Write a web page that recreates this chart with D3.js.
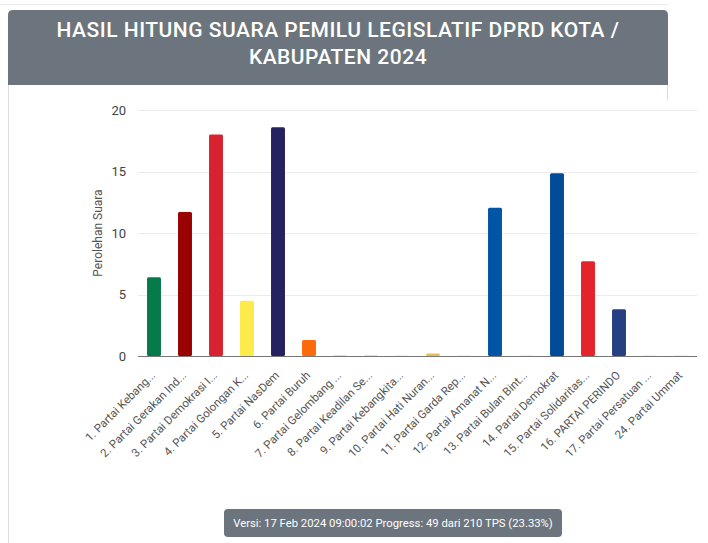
<!DOCTYPE html>
<html><head><meta charset="utf-8">
<script src="https://cdn.jsdelivr.net/npm/d3@7"></script>
<style>
html,body{margin:0;padding:0;background:#fff;}
svg{display:block;font-family:Roboto,"Noto Sans",sans-serif;}
</style></head>
<body>
<svg id="c" width="708" height="543"></svg>
<script>
const titleLines = ["HASIL HITUNG SUARA PEMILU LEGISLATIF DPRD KOTA /", "KABUPATEN 2024"];
const categories = ["1. Partai Kebang...", "2. Partai Gerakan Ind...", "3. Partai Demokrasi I...", "4. Partai Golongan K...", "5. Partai NasDem", "6. Partai Buruh", "7. Partai Gelombang ...", "8. Partai Keadilan Se...", "9. Partai Kebangkita...", "10. Partai Hati Nuran...", "11. Partai Garda Rep...", "12. Partai Amanat N...", "13. Partai Bulan Bint...", "14. Partai Demokrat", "15. Partai Solidaritas...", "16. PARTAI PERINDO", "17. Partai Persatuan ...", "24. Partai Ummat"];
const values = [6.4, 11.7, 18.0, 4.5, 18.6, 1.3, 0.05, 0.05, 0.03, 0.2, 0.03, 12.05, 0.03, 14.85, 7.7, 3.8, 0.03, 0.03];
const colors = ["#077a4c", "#9a0202", "#d8222f", "#fdea4b", "#25225f", "#fd6a0b", "#9cc8e6", "#e0b98a", "#c8c8c8", "#e6bf55", "#c8c8c8", "#0055a5", "#c8c8c8", "#004c98", "#e4232b", "#263f80", "#c8c8c8", "#c8c8c8"];
const yTicks = [0, 5, 10, 15, 20];
const yTitle = "Perolehan Suara";
const footer = "Versi: 17 Feb 2024 09:00:02 Progress: 49 dari 210 TPS (23.33%)";

const svg = d3.select("#c");

// card body border
svg.append("path").attr("d","M8.5,85 V543 M667.5,85 V100").attr("stroke","#dcdcdc").attr("fill","none");
svg.append("line").attr("x1",0).attr("x2",668).attr("y1",4.5).attr("y2",4.5).attr("stroke","#e8eaee");

// header
const hx=8, hy=10, hw=660, hh=75, r=5;
svg.append("path")
  .attr("d",`M${hx},${hy+hh} V${hy+r} Q${hx},${hy} ${hx+r},${hy} H${hx+hw-r} Q${hx+hw},${hy} ${hx+hw},${hy+r} V${hy+hh} Z`)
  .attr("fill","#6c757d");
svg.append("g").selectAll("text").data(titleLines).join("text")
  .attr("x", 338).attr("y",(d,i)=>37+i*26.5)
  .attr("text-anchor","middle").attr("fill","#fff")
  .attr("font-size",21).attr("font-weight",500).attr("letter-spacing",0.5)
  .text(d=>d);

// scales
const x = d3.scaleBand().domain(categories).range([138.5, 696.5]).paddingInner(0.55).paddingOuter(0.275);
const y = d3.scaleLinear().domain([0,20]).range([356,110]);

// gridlines
svg.append("g").selectAll("line").data(yTicks.filter(t=>t>0)).join("line")
  .attr("x1",138).attr("x2",697).attr("y1",d=>Math.round(y(d))+0.5).attr("y2",d=>Math.round(y(d))+0.5)
  .attr("stroke","#ececec");

// y axis labels
const ya = svg.append("g").attr("transform","translate(126,0)")
  .call(d3.axisLeft(y).tickValues(yTicks).tickSize(0).tickPadding(0));
ya.select(".domain").remove();
ya.selectAll("text").attr("font-family","Roboto,sans-serif").attr("font-size",13).attr("fill","#444");

// y title
svg.append("text").attr("transform","translate(101.5,233) rotate(-90)")
  .attr("text-anchor","middle").attr("font-size",12).attr("fill","#555").text(yTitle);

// bars
svg.append("g").selectAll("rect").data(values).join("rect")
  .attr("x",(d,i)=>x(categories[i]))
  .attr("width",x.bandwidth())
  .attr("y",d=>y(d))
  .attr("height",d=>y(0)-y(d))
  .attr("rx",1.5)
  .attr("fill",(d,i)=>colors[i]);

// baseline
svg.append("line").attr("x1",138).attr("x2",697).attr("y1",356.5).attr("y2",356.5).attr("stroke","#777").attr("stroke-width",1.2);

// x labels
svg.append("g").selectAll("text").data(categories).join("text")
  .attr("transform",d=>`translate(${x(d)+x.bandwidth()/2+2},${376}) rotate(-45)`)
  .attr("text-anchor","end").attr("font-size",11.5).attr("fill","#555")
  .text(d=>d);

// footer badge
const bw=338, bx=224, by=509, bh=28;
svg.append("rect").attr("x",bx).attr("y",by).attr("width",bw).attr("height",bh).attr("rx",4).attr("fill","#6c757d");
svg.append("text").attr("x",bx+bw/2).attr("y",by+18).attr("text-anchor","middle")
  .attr("fill","#fff").attr("font-size",11.3).text(footer);
</script>
</body></html>
